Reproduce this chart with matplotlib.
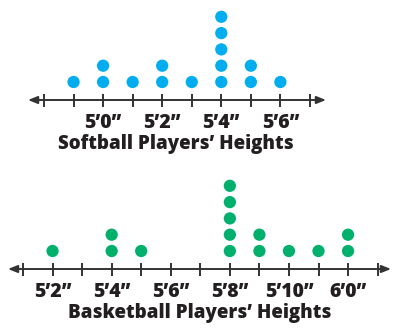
import matplotlib.pyplot as plt
from matplotlib.transforms import blended_transform_factory

# heights in inches, and how many players at each height
softball_heights = [59, 60, 61, 62, 63, 64, 65, 66]
softball_counts = [1, 2, 1, 2, 1, 5, 2, 1]
softball_ticks = list(range(58, 68))
softball_labels = {60: "5\u20190\u201d", 62: "5\u20192\u201d", 64: "5\u20194\u201d", 66: "5\u20196\u201d"}

basketball_heights = [62, 64, 65, 68, 69, 70, 71, 72]
basketball_counts = [1, 2, 1, 5, 2, 1, 1, 2]
basketball_ticks = list(range(61, 74))
basketball_labels = {62: "5\u20192\u201d", 64: "5\u20194\u201d", 66: "5\u20196\u201d",
                     68: "5\u20198\u201d", 70: "5\u201910\u201d", 72: "6\u20190\u201d"}

blue = "#00aeef"
green = "#00b06c"
dark = "#333333"
plt.rcParams['font.family'] = ['Open Sans', 'DejaVu Sans']

W, H = 399, 331
px = 29.55  # pixels per inch of height


def dot_plot(ax, heights, counts, ticks, labels, color, title, first_px, arrow_px, title_frac):
    x0 = ticks[0] - first_px / px
    ax.set_xlim(x0, x0 + W / px)
    a0 = x0 + arrow_px[0] / px
    a1 = x0 + arrow_px[1] / px
    ax.annotate("", xy=(a1, 0), xytext=(a0, 0),
                arrowprops=dict(arrowstyle="<|-|>,head_length=0.55,head_width=0.22",
                                color=dark, lw=1.4, shrinkA=0, shrinkB=0))
    for t in ticks:
        ax.plot([t, t], [-6.5, 6.5], color=dark, lw=1.4, solid_capstyle="butt")
    for h, c in zip(heights, counts):
        for k in range(c):
            ax.scatter(h, 18 + 16.3 * k, s=78, color=color, edgecolors="none", zorder=3)
    for t, lab in labels.items():
        ax.text(t, -23, lab, ha="center", va="center", fontsize=14,
                fontweight="heavy", color="#231f20")
    tr = blended_transform_factory(ax.transAxes, ax.transData)
    ax.text(title_frac, -44, title, transform=tr, ha="center", va="center",
            fontsize=13.5, fontweight="heavy", color="#231f20")
    ax.axis("off")


fig = plt.figure(figsize=(W / 100, H / 100), dpi=100)

ax1 = fig.add_axes([0, (H - 160) / H, 1, 160 / H])
ax1.set_ylim(-60, 100)
dot_plot(ax1, softball_heights, softball_counts, softball_ticks, softball_labels,
         blue, "Softball Players\u2019 Heights", 44, (28, 326), 176 / W)

ax2 = fig.add_axes([0, 0, 1, 166 / H])
ax2.set_ylim(-62, 104)
dot_plot(ax2, basketball_heights, basketball_counts, basketball_ticks, basketball_labels,
         green, "Basketball Players\u2019 Heights", 23, (8, 391), 200 / W)

fig.savefig("out.png", dpi=100)
